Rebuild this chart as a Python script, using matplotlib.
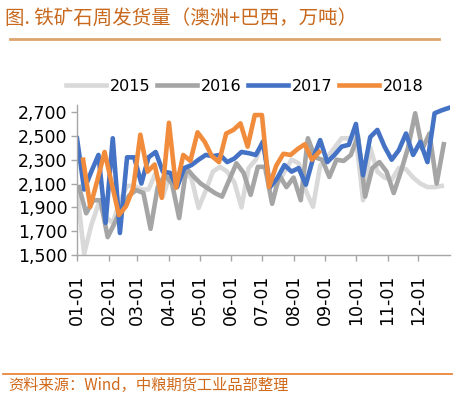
import numpy as np
import matplotlib
matplotlib.use('Agg')
import matplotlib.pyplot as plt

# weekly shipments, Australia + Brazil (10k t)
v2015 = [2050, 1510, 1750, 1930, 1820, 1770, 1950, 2080, 2080, 2050, 2050, 2190, 1990,
         2170, 2180, 2200, 2145, 1895, 2040, 2200, 2240, 2200, 2110, 1900, 2230, 2300,
         2460, 2100, 2090, 2200, 2300, 2270, 2040, 1905, 2250, 2320, 2400, 2480, 2480,
         2490, 1960, 2400, 2200, 2150, 2130, 2230, 2220, 2150, 2100, 2070, 2070, 2080]
v2016 = [2070, 1850, 1960, 1960, 1650, 1770, 1900, 2000, 2045, 2020, 1720, 2070, 2170,
         2100, 1810, 2230, 2160, 2100, 2060, 2020, 1990, 2130, 2270, 2190, 2005, 2240,
         2240, 1930, 2170, 2070, 2150, 1960, 2480, 2320, 2300, 2155, 2300, 2290, 2340,
         2500, 1990, 2230, 2280, 2200, 2020, 2200, 2400, 2690, 2390, 2520, 2100, 2430]
v2017 = [2480, 2050, 2200, 2340, 1770, 2480, 1685, 2320, 2320, 2100, 2320, 2365, 2200,
         2190, 2070, 2230, 2255, 2300, 2340, 2330, 2340, 2280, 2310, 2365, 2355, 2340,
         2450, 2070, 2145, 2255, 2200, 2230, 2090, 2310, 2465, 2280, 2340, 2410, 2425,
         2600, 2170, 2490, 2550, 2410, 2300, 2380, 2520, 2340, 2450, 2280, 2690, 2715, 2735]
v2018 = [2300, 1905, 2130, 2365, 2100, 1835, 1910, 2060, 2510, 2200, 2260, 1980, 2610,
         2065, 2340, 2290, 2530, 2450, 2330, 2280, 2520, 2550, 2605, 2410, 2675, 2675,
         2070, 2250, 2350, 2340, 2390, 2430, 2300, 2365]

start_day = {'2015': 0, '2016': 2, '2017': 0, '2018': 6}  # day of year of first week
month_days = [0, 31, 59, 90, 120, 151, 181, 212, 243, 273, 304, 334]
month_labels = ['01-01', '02-01', '03-01', '04-01', '05-01', '06-01',
                '07-01', '08-01', '09-01', '10-01', '11-01', '12-01']

series = [('2015', v2015, '#D9D9D9'), ('2016', v2016, '#A5A5A5'),
          ('2017', v2017, '#4472C4'), ('2018', v2018, '#F08C3C')]

fig = plt.figure(figsize=(4.54, 3.97), dpi=100)
ax = fig.add_axes([0.1696, 0.3577, 0.8214, 0.378])

for name, vals, col in series:
    days = start_day[name] + 7 * np.arange(len(vals))
    ax.plot(days, vals, color=col, lw=3.3, label=name)

ax.set_xlim(0, 365)
ax.set_ylim(1500, 2760)
ax.set_yticks(np.arange(1500, 2701, 200))
ax.set_yticklabels(['{:,}'.format(v) for v in range(1500, 2701, 200)],
                   fontsize=12.5, family='DejaVu Sans')
ax.set_xticks(month_days)
ax.set_xticklabels(month_labels, rotation=90, fontsize=12.5, family='DejaVu Sans')
ax.tick_params(axis='y', length=4, width=1, color='#A6A6A6', pad=3)
ax.tick_params(axis='x', length=4, width=1, color='#A6A6A6', pad=10)
for s in ['top', 'right']:
    ax.spines[s].set_visible(False)
for s in ['left', 'bottom']:
    ax.spines[s].set_color('#A6A6A6')
    ax.spines[s].set_linewidth(1)

ax.legend(loc='lower center', bbox_to_anchor=(0.45, 1.0), ncol=4, frameon=False,
          fontsize=11.5, handlelength=2.5, handletextpad=0.25, columnspacing=0.4,
          borderaxespad=0.3)

# title, rules and source note
fig.text(0.011, 0.955, '图. 铁矿石周发货量（澳洲+巴西，万吨）', fontsize=14, weight='medium',
         color='#C8691E', family=['Noto Sans CJK SC', 'DejaVu Sans'], va='center')
fig.add_artist(plt.Line2D([0.022, 0.967], [0.902, 0.902], color='#DDA56E', lw=2))
fig.add_artist(plt.Line2D([0.007, 0.995], [0.058, 0.058], color='#E8863A', lw=1.3))
fig.text(0.018, 0.028, '资料来源：Wind，中粮期货工业品部整理', fontsize=11, weight='medium',
         color='#D0691A', family=['Noto Sans CJK SC', 'DejaVu Sans'], va='center')

fig.savefig('out.png', dpi=100)
